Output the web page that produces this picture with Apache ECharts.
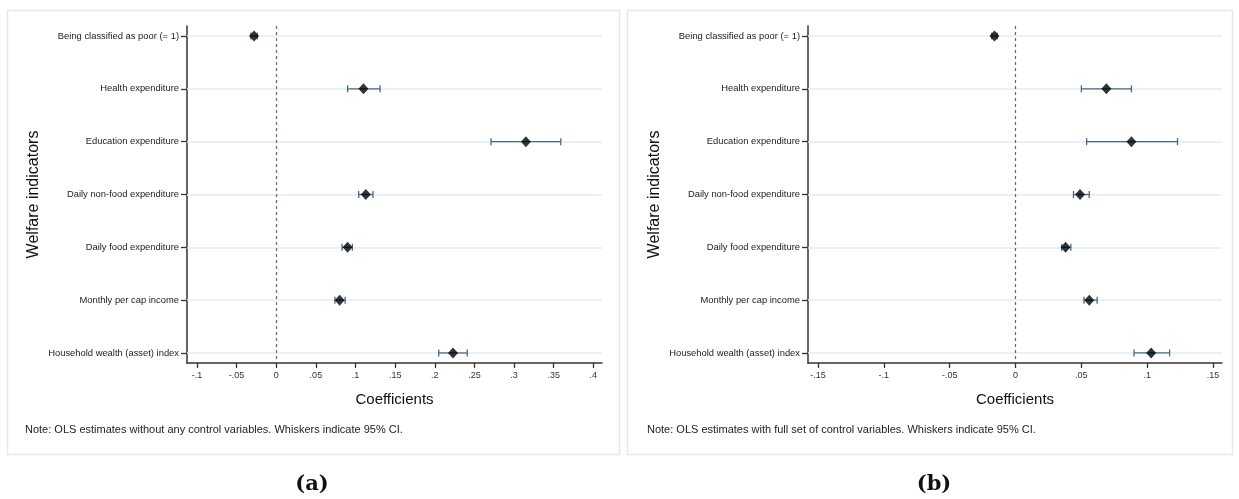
<!DOCTYPE html>
<html>
<head>
<meta charset="utf-8">
<script src="https://cdn.jsdelivr.net/npm/echarts@6/dist/echarts.min.js"></script>
<style>
html,body{margin:0;padding:0;background:#fff;}
#chart{width:1239px;height:499px;}
</style>
</head>
<body>
<div id="chart"></div>
<script>
// ---- data ----
const categories = [
  'Being classified as poor (= 1)',
  'Health expenditure',
  'Education expenditure',
  'Daily non-food expenditure',
  'Daily food expenditure',
  'Monthly per cap income',
  'Household wealth (asset) index'
];
// Panel (a): no controls
const coefA = [-0.028, 0.110, 0.315, 0.113, 0.090, 0.080, 0.223];
const lowA  = [-0.032, 0.090, 0.271, 0.104, 0.083, 0.074, 0.205];
const highA = [-0.024, 0.131, 0.359, 0.122, 0.096, 0.087, 0.241];
// Panel (b): full controls
const coefB = [-0.016, 0.069, 0.088, 0.049, 0.038, 0.056, 0.103];
const lowB  = [-0.018, 0.050, 0.054, 0.044, 0.035, 0.052, 0.090];
const highB = [-0.014, 0.088, 0.123, 0.056, 0.042, 0.062, 0.117];
// tick labels
const ticksA = [-0.1, -0.05, 0, 0.05, 0.1, 0.15, 0.2, 0.25, 0.3, 0.35, 0.4];
const ticksB = [-0.15, -0.1, -0.05, 0, 0.05, 0.1, 0.15];
const noteA = 'Note: OLS estimates without any control variables. Whiskers indicate 95% CI.';
const noteB = 'Note: OLS estimates with full set of control variables. Whiskers indicate 95% CI.';
const xTitle = 'Coefficients';
const yTitle = 'Welfare indicators';

// ---- helpers ----
const FONT = '"Liberation Sans", Arial, sans-serif';
const rowIdx = categories.map((c, i) => i);
function stataFmt(v) {
  let s = String(Number(v.toFixed(3)));
  s = s.replace(/^(-?)0\./, '$1.');
  return s;
}
function xAxisCfg(gridIndex, min, max, ticks) {
  return {
    type: 'value', gridIndex, min, max,
    name: xTitle, nameLocation: 'middle', nameGap: 29,
    nameTextStyle: { fontFamily: FONT, fontSize: 15, color: '#111' },
    axisLine: { show: true, onZero: false, lineStyle: { color: '#333', width: 1.5 } },
    axisTick: { show: true, length: 5, customValues: ticks, lineStyle: { color: '#333', width: 1.3 } },
    axisLabel: { customValues: ticks, formatter: stataFmt, fontFamily: FONT, fontSize: 9, color: '#333', margin: 8 },
    splitLine: { show: false }
  };
}
function yAxisCfg(gridIndex) {
  return {
    type: 'value', gridIndex, inverse: true, min: -0.19, max: 6.19,
    name: yTitle, nameLocation: 'middle', nameRotate: 90, nameGap: 145,
    nameTextStyle: { fontFamily: FONT, fontSize: 16, color: '#111' },
    axisLine: { show: true, onZero: false, lineStyle: { color: '#333', width: 1.5 } },
    axisTick: { show: true, length: 6, customValues: rowIdx, lineStyle: { color: '#333', width: 1.3 } },
    axisLabel: { customValues: rowIdx, formatter: v => categories[Math.round(v)], fontFamily: FONT, fontSize: 9.4, color: '#222', margin: 8 },
    splitLine: { show: false }
  };
}
function seriesFor(idx, coef, low, high) {
  return [
    {
      type: 'scatter', xAxisIndex: idx, yAxisIndex: idx, data: [], z: 1,
      markLine: {
        silent: true, symbol: 'none', label: { show: false }, z: 1,
        data: [
          ...rowIdx.map(i => ({ yAxis: i, lineStyle: { color: '#e5ecef', width: 1.6, type: 'solid' } })),
          { xAxis: 0, lineStyle: { color: '#666', width: 1.2, type: [3, 3] } }
        ]
      }
    },
    {
      type: 'custom', xAxisIndex: idx, yAxisIndex: idx, z: 10,
      data: rowIdx.map(i => [low[i], high[i], i]),
      encode: { x: [0, 1], y: 2 },
      renderItem: function (params, api) {
        const a = api.coord([api.value(0), api.value(2)]);
        const b = api.coord([api.value(1), api.value(2)]);
        const h = 3.5;
        const st = { stroke: '#44698a', lineWidth: 1.3 };
        return {
          type: 'group',
          children: [
            { type: 'line', shape: { x1: a[0], y1: a[1], x2: b[0], y2: b[1] }, style: st },
            { type: 'line', shape: { x1: a[0], y1: a[1] - h, x2: a[0], y2: a[1] + h }, style: st },
            { type: 'line', shape: { x1: b[0], y1: b[1] - h, x2: b[0], y2: b[1] + h }, style: st }
          ]
        };
      }
    },
    {
      type: 'scatter', xAxisIndex: idx, yAxisIndex: idx, z: 11,
      symbol: 'diamond', symbolSize: [10, 11],
      itemStyle: { color: '#000' },
      data: rowIdx.map(i => [coef[i], i])
    }
  ];
}

const chart = echarts.init(document.getElementById('chart'), null, { renderer: 'canvas' });
chart.setOption({
  backgroundColor: '#fff',
  animation: false,
  grid: [
    { left: 187, top: 26, width: 415, height: 337 },
    { left: 808, top: 26, width: 414, height: 337 }
  ],
  xAxis: [xAxisCfg(0, -0.1126, 0.411, ticksA), xAxisCfg(1, -0.1576, 0.1568, ticksB)],
  yAxis: [yAxisCfg(0), yAxisCfg(1)],
  series: [...seriesFor(0, coefA, lowA, highA), ...seriesFor(1, coefB, lowB, highB)],
  graphic: [
    { type: 'rect', z: -10, shape: { x: 7.5, y: 10.5, width: 612, height: 444 }, style: { fill: '#fff', stroke: '#e3e9ec', lineWidth: 1.5 } },
    { type: 'rect', z: -10, shape: { x: 627.5, y: 10.5, width: 605, height: 444 }, style: { fill: '#fff', stroke: '#e3e9ec', lineWidth: 1.5 } },
    { type: 'text', left: 25, top: 424, style: { text: noteA, font: '11px ' + FONT, fill: '#222' } },
    { type: 'text', left: 647, top: 424, style: { text: noteB, font: '11px ' + FONT, fill: '#222' } },
    { type: 'text', x: 312, y: 485, style: { text: '(a)', font: 'bold 21px "DejaVu Serif", "Liberation Serif", serif', fill: '#111', align: 'center', verticalAlign: 'middle' } },
    { type: 'text', x: 934, y: 485, style: { text: '(b)', font: 'bold 21px "DejaVu Serif", "Liberation Serif", serif', fill: '#111', align: 'center', verticalAlign: 'middle' } }
  ]
});
</script>
</body>
</html>
